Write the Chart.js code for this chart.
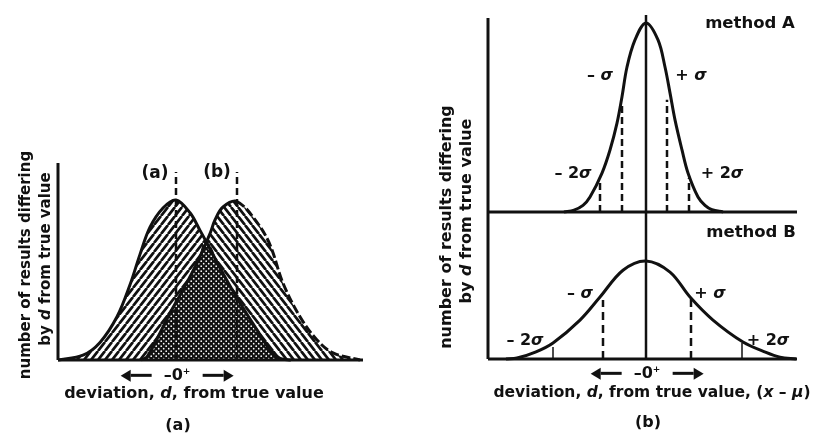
<!DOCTYPE html>
<html lang="en">
<head>
<meta charset="UTF-8">
<title>Deviation from true value</title>
<script src="https://cdn.jsdelivr.net/npm/chart.js@4.4.1/dist/chart.umd.min.js"></script>
<style>
  * {box-sizing:border-box;margin:0;padding:0;}
  body {width:816px;height:435px;background:#fff;overflow:hidden;position:relative;font-family:'DejaVu Sans',sans-serif;font-weight:bold;color:#111;}
  canvas {position:absolute;left:0;top:0;}
  .t {position:absolute;white-space:nowrap;transform:translate(-50%,-50%);line-height:1;}
  .rot {transform:translate(-50%,-50%) rotate(-90deg);}
  i {font-style:italic;}
  .arr {display:inline-block;position:relative;width:21px;height:3px;background:#111;vertical-align:middle;margin:0 12px;}
  .arr.l::before {content:'';position:absolute;left:-10px;top:-4.5px;border-style:solid;border-width:6px 10px 6px 0;border-color:transparent #111 transparent transparent;}
  .arr.r::after {content:'';position:absolute;right:-10px;top:-4.5px;border-style:solid;border-width:6px 0 6px 10px;border-color:transparent transparent transparent #111;}
</style>
</head>
<body>
<canvas id="chartLeft" width="816" height="435"></canvas>
<canvas id="chartA" width="816" height="435"></canvas>
<canvas id="chartB" width="816" height="435"></canvas>

<!-- panel (a) texts -->
<div class="t rot" style="left:25px;top:265px;font-size:15px;">number of results differing</div>
<div class="t rot" style="left:45px;top:259px;font-size:15px;">by <i>d</i> from true value</div>
<div class="t" style="left:155px;top:172px;font-size:17px;">(a)</div>
<div class="t" style="left:217px;top:171px;font-size:17px;">(b)</div>
<div class="t" style="left:177px;top:375px;font-size:16px;"><span class="arr l"></span>–0<sup style="font-size:9px">+</sup><span class="arr r"></span></div>
<div class="t" style="left:194px;top:393px;font-size:16px;">deviation, <i>d</i>, from true value</div>
<div class="t" style="left:178px;top:425px;font-size:16px;">(a)</div>

<!-- panel (b) texts -->
<div class="t rot" style="left:446px;top:227px;font-size:16px;">number of results differing</div>
<div class="t rot" style="left:466px;top:211px;font-size:16px;">by <i>d</i> from true value</div>
<div class="t" style="left:750px;top:23px;font-size:16.5px;">method A</div>
<div class="t" style="left:600px;top:75px;font-size:16px;">– <i>σ</i></div>
<div class="t" style="left:691px;top:75px;font-size:16px;">+ <i>σ</i></div>
<div class="t" style="left:573px;top:173px;font-size:16px;">– 2<i>σ</i></div>
<div class="t" style="left:722px;top:173px;font-size:16px;">+ 2<i>σ</i></div>
<div class="t" style="left:751px;top:232px;font-size:16.5px;">method B</div>
<div class="t" style="left:580px;top:293px;font-size:16px;">– <i>σ</i></div>
<div class="t" style="left:710px;top:293px;font-size:16px;">+ <i>σ</i></div>
<div class="t" style="left:525px;top:340px;font-size:16px;">– 2<i>σ</i></div>
<div class="t" style="left:768px;top:340px;font-size:16px;">+ 2<i>σ</i></div>
<div class="t" style="left:647px;top:373px;font-size:16px;"><span class="arr l"></span>–0<sup style="font-size:9px">+</sup><span class="arr r"></span></div>
<div class="t" style="left:652px;top:393px;font-size:15.5px;">deviation, <i>d</i>, from true value, (<i>x</i> – <i>μ</i>)</div>
<div class="t" style="left:648px;top:422px;font-size:16px;">(b)</div>

<script>
// ---- panel (a): two methods, same spread, (b) shifted by a constant error
const curveAd = [-11.8,-9.3,-7.6,-5.9,-4.6,-3.6,-2.6,-1.3,0,1.4,2.4,3.1,4.7,6.4,8.1,9.4,10.4,11.5];
const curveAn = [0,3,11,27,47,66,83,95,100,92,81,73,54,35.6,18.8,6.3,1,0];
const curveBd = [-3.5,-2.9,-1.6,-0.6,0.7,2.1,3.4,3.9,4.7,6.1,8.1,9.4,10.7,12.4,14.1,15.7,18.4];
const curveBn = [0,2,16.9,29.4,43.8,60.6,79,87.5,95.6,99,86,72,48,27,12.5,4.4,0];
const overlapD = [-3.5,-2.9,-1.6,-0.6,0.7,2.1,3.0,4.7,6.4,8.1,9.4,10.4];
const overlapN = [0,2,16.9,29.4,43.8,60.6,75,54,35.6,18.8,6.3,0];
const peakD = [0, 6.1];
const peakTop = 117.5;
const leftRange = [-11.8, 18.7, 123.1];   // xmin, xmax, ymax

// ---- panel (b): method A narrow, method B wide
const methodAd = [-8.2,-7.2,-6.3,-5.6,-4.4,-3.6,-2.9,-2.4,-1.9,-1.1,0,1.2,1.9,2.4,2.9,3.6,4.2,5.2,5.9,6.6,7.7];
const methodAn = [0,1,3.5,7.9,20.6,32.8,47,61,76.7,91,100,91,76.7,63,48.7,32.8,20.6,7.9,3.5,1.2,0];
const sigmaAd = [-4.6,-2.4,2.1,4.3];
const sigmaAn = [15.3,57.7,59.3,18];
const methodBd = [-14,-12.9,-11,-9.3,-6.6,-4.6,-2.3,0,2.4,4.4,6.7,9.7,12,13.4,15];
const methodBn = [0,0.5,3.8,8.5,20.6,32.8,47,51.9,46,32.8,20.6,9,3.5,1,0];
const sigmaBd = [-9.3,-4.3,4.5,9.6];
const sigmaBn = [6.3,31.2,32.3,8.5];
const rightRange = [-15.8, 15.1];
const aTop = 102.6, aCentreTop = 104.2, bTop = 77.8;

const INK = '#111';
const SMOOTH = 0.35;
const pts = (xs, ys) => xs.map((x, i) => ({x: x, y: ys[i]}));
const seg = (x0, y0, x1, y1) => [{x: x0, y: y0}, {x: x1, y: y1}];

function hatch(ctx, dir) {
  const w = 7, h = 9, c = document.createElement('canvas');
  c.width = w; c.height = h;
  const g = c.getContext('2d');
  g.fillStyle = '#fff'; g.fillRect(0, 0, w, h);
  g.strokeStyle = INK; g.lineWidth = 2.7;
  g.beginPath();
  for (let k = -1; k <= 1; k++) {
    if (dir > 0) { g.moveTo(k*w, h); g.lineTo(k*w + w, 0); }
    else { g.moveTo(k*w, 0); g.lineTo(k*w + w, h); }
  }
  g.stroke();
  return ctx.createPattern(c, 'repeat');
}
function stipple(ctx) {
  const s = 5, c = document.createElement('canvas');
  c.width = s; c.height = s;
  const g = c.getContext('2d');
  g.fillStyle = INK; g.fillRect(0, 0, s, s);
  g.fillStyle = '#fff';
  g.beginPath(); g.arc(1.2, 1.2, 0.85, 0, Math.PI*2); g.fill();
  g.beginPath(); g.arc(3.7, 3.7, 0.85, 0, Math.PI*2); g.fill();
  return ctx.createPattern(c, 'repeat');
}

function line(data, opts) {
  return Object.assign({data: data, borderColor: INK, borderWidth: 3, pointRadius: 0,
    fill: false, clip: false, tension: 0}, opts);
}

function baseOptions(xr, ymax, pad) {
  return {
    responsive: false, animation: false,
    layout: {padding: pad},
    plugins: {legend: {display: false}, tooltip: {enabled: false}},
    scales: {
      x: {type: 'linear', display: false, min: xr[0], max: xr[1]},
      y: {type: 'linear', display: false, min: 0, max: ymax}
    }
  };
}

// ---------- left chart
const ctxL = document.getElementById('chartLeft').getContext('2d');
const xl0 = leftRange[0], xl1 = leftRange[1], yl = leftRange[2];
new Chart(ctxL, {
  type: 'line',
  data: {datasets: [
    line(pts(curveAd, curveAn), {borderWidth: 0, fill: 'origin', backgroundColor: hatch(ctxL, 1), tension: SMOOTH, order: 9}),
    line(pts(curveBd, curveBn), {borderWidth: 0, fill: 'origin', backgroundColor: hatch(ctxL, -1), tension: SMOOTH, order: 8}),
    line(pts(overlapD, overlapN), {borderWidth: 0, fill: 'origin', backgroundColor: stipple(ctxL), tension: SMOOTH, order: 7}),
    line(pts(curveAd, curveAn), {borderWidth: 3, tension: SMOOTH, order: 5}),
    line(pts(curveBd, curveBn), {borderWidth: 3, tension: SMOOTH, order: 5,
      segment: {borderDash: c => c.p0.parsed.x >= peakD[1] ? [9, 3] : undefined}}),
    line(seg(peakD[0], 0, peakD[0], peakTop), {borderWidth: 2.5, borderDash: [7, 4], order: 3}),
    line(seg(peakD[1], 0, peakD[1], peakTop), {borderWidth: 2.5, borderDash: [7, 4], order: 3}),
    line(seg(xl0, 0, xl0, yl), {order: 1}),
    line(seg(xl0, 0, xl1, 0), {order: 1})
  ]},
  options: baseOptions([xl0, xl1], yl, {left: 58, right: 453, top: 163, bottom: 75})
});

// ---------- method A
const ctxA = document.getElementById('chartA').getContext('2d');
const xr0 = rightRange[0], xr1 = rightRange[1];
new Chart(ctxA, {
  type: 'line',
  data: {datasets: [
    line(pts(methodAd, methodAn), {tension: SMOOTH, order: 5}),
    ...sigmaAd.map((d, i) => line(seg(d, 0, d, sigmaAn[i]), {borderWidth: 2.5, borderDash: [7, 4], order: 4})),
    line(seg(0, 0, 0, aCentreTop), {borderWidth: 2.5, order: 3}),
    line(seg(xr0, 0, xr0, aTop), {order: 1}),
    line(seg(xr0, 0, xr1, 0), {order: 1})
  ]},
  options: baseOptions([xr0, xr1], aTop, {left: 488, right: 19, top: 18, bottom: 223})
});

// ---------- method B
const ctxB = document.getElementById('chartB').getContext('2d');
new Chart(ctxB, {
  type: 'line',
  data: {datasets: [
    line(pts(methodBd, methodBn), {tension: SMOOTH, order: 5}),
    ...sigmaBd.map((d, i) => line(seg(d, 0, d, sigmaBn[i]), Math.abs(d) > 7
      ? {borderWidth: 1.5, order: 4}
      : {borderWidth: 2.5, borderDash: [8, 5], order: 4})),
    line(seg(0, 0, 0, bTop), {borderWidth: 2.5, order: 3}),
    line(seg(xr0, 0, xr0, bTop), {order: 1}),
    line(seg(xr0, 0, xr1, 0), {order: 1})
  ]},
  options: baseOptions([xr0, xr1], bTop, {left: 488, right: 19, top: 212, bottom: 76})
});
</script>
</body>
</html>
